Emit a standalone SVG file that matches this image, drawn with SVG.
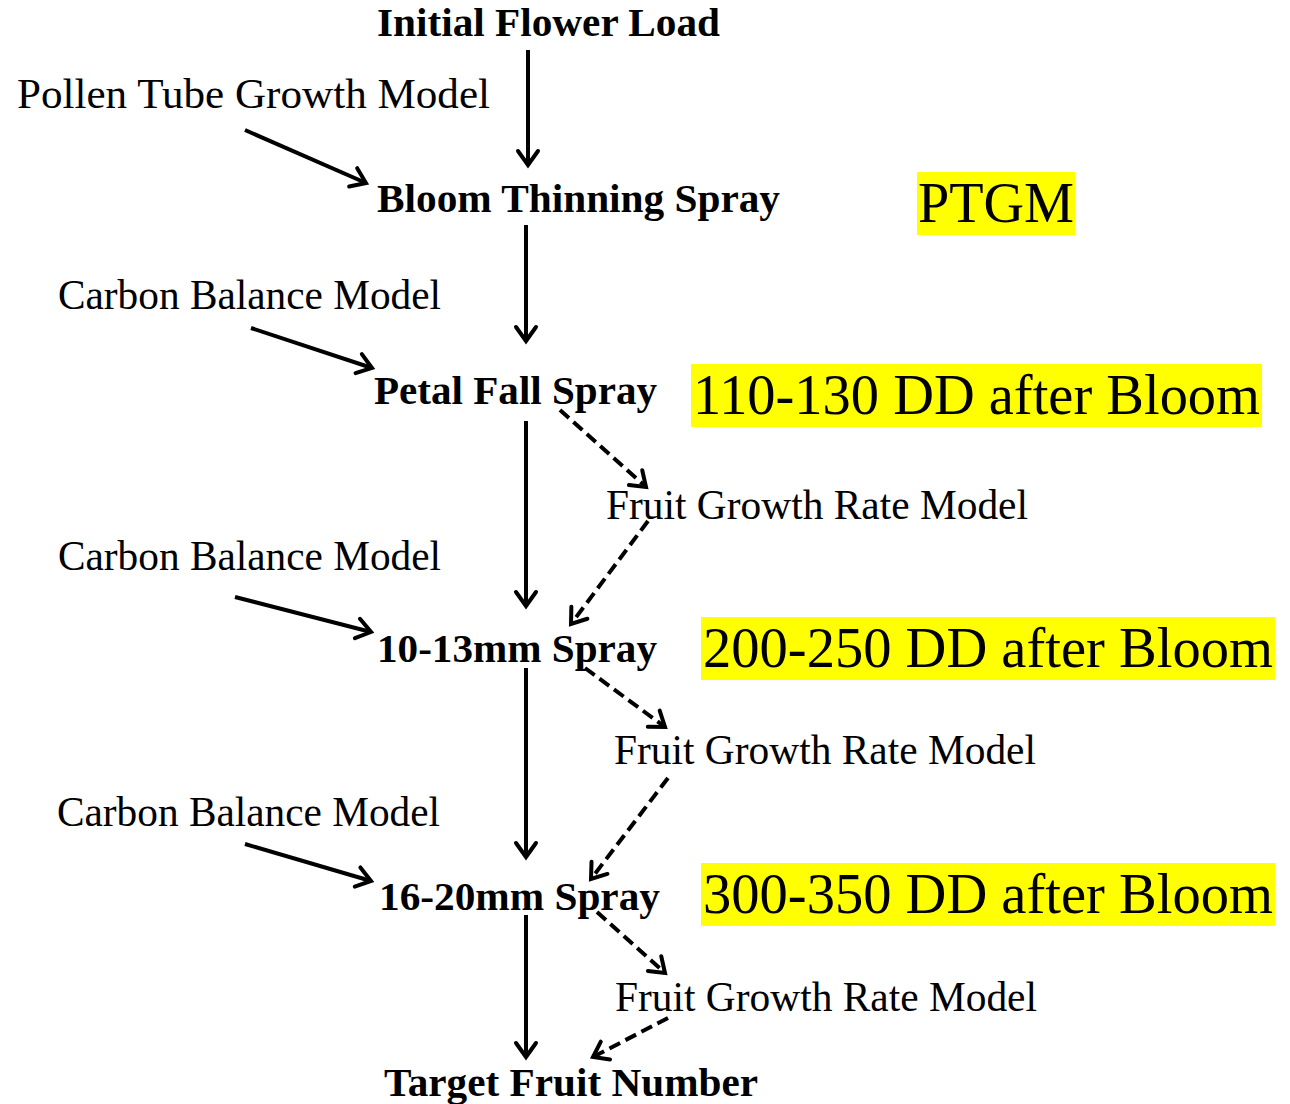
<svg xmlns="http://www.w3.org/2000/svg" width="1290" height="1104" viewBox="0 0 1290 1104">
<style>
.b{font-family:'Liberation Serif','Times New Roman',Times,serif;font-weight:bold;font-size:40px;fill:#000}
.r{font-family:'Liberation Serif','Times New Roman',Times,serif;font-size:42px;fill:#000}
.y{font-family:'Liberation Serif','Times New Roman',Times,serif;font-size:56px;fill:#000}
.hl{fill:#ffff00}
.s{stroke:#000;stroke-width:4;fill:none;marker-end:url(#ah)}
.d{stroke:#000;stroke-width:4;fill:none;stroke-dasharray:12 6;marker-end:url(#ah)}
</style>
<defs>
<marker id="ah" markerUnits="userSpaceOnUse" viewBox="-18 -14 22 28" markerWidth="22" markerHeight="28" refX="0" refY="0" orient="auto">
<polyline points="-14,-10 0,0 -14,10" fill="none" stroke="#000" stroke-width="4" stroke-linecap="round" stroke-linejoin="miter"/>
</marker>
</defs>
<rect width="1290" height="1104" fill="#fff"/>
<g id="connectors">
<line class="s" x1="528" y1="50" x2="528" y2="165"/>
<line class="s" x1="526" y1="225" x2="526" y2="341"/>
<line class="s" x1="526" y1="421" x2="526" y2="606"/>
<line class="s" x1="526" y1="668" x2="526" y2="857"/>
<line class="s" x1="526" y1="915" x2="526" y2="1057"/>
<line class="s" x1="245" y1="130" x2="366" y2="183"/>
<line class="s" x1="251" y1="328" x2="372" y2="368"/>
<line class="s" x1="235" y1="597" x2="371" y2="632"/>
<line class="s" x1="245" y1="844" x2="371" y2="881"/>
<line class="d" x1="560" y1="410" x2="646" y2="487"/>
<line class="d" x1="648" y1="521" x2="571" y2="624"/>
<line class="d" x1="585" y1="668" x2="665" y2="727"/>
<line class="d" x1="668" y1="778" x2="591" y2="879"/>
<line class="d" x1="597" y1="912" x2="665" y2="973"/>
<line class="d" x1="668" y1="1018" x2="593" y2="1057"/>
</g>
<g id="initial"><text class="b" x="377" y="36" textLength="343" lengthAdjust="spacingAndGlyphs">Initial Flower Load</text></g>
<g id="pollen"><text class="r" x="17" y="108" textLength="473" lengthAdjust="spacingAndGlyphs">Pollen Tube Growth Model</text></g>
<g id="bloom"><text class="b" x="377" y="212" textLength="403" lengthAdjust="spacingAndGlyphs">Bloom Thinning Spray</text></g>
<g id="ptgm"><rect class="hl" x="917" y="172" width="158" height="63"/><text class="y" x="918" y="222" textLength="156" lengthAdjust="spacingAndGlyphs">PTGM</text></g>
<g id="carbon1"><text class="r" x="58" y="309" textLength="383" lengthAdjust="spacingAndGlyphs">Carbon Balance Model</text></g>
<g id="petal"><text class="b" x="374" y="404" textLength="283" lengthAdjust="spacingAndGlyphs">Petal Fall Spray</text></g>
<g id="dd1"><rect class="hl" x="691" y="364" width="571" height="63"/><text class="y" x="693" y="414" textLength="567" lengthAdjust="spacingAndGlyphs">110-130 DD after Bloom</text></g>
<g id="fgr1"><text class="r" x="606" y="519" textLength="422" lengthAdjust="spacingAndGlyphs">Fruit Growth Rate Model</text></g>
<g id="carbon2"><text class="r" x="58" y="570" textLength="383" lengthAdjust="spacingAndGlyphs">Carbon Balance Model</text></g>
<g id="spray1013"><text class="b" x="377" y="662" textLength="280" lengthAdjust="spacingAndGlyphs">10-13mm Spray</text></g>
<g id="dd2"><rect class="hl" x="701" y="617" width="574" height="63"/><text class="y" x="703" y="667" textLength="570" lengthAdjust="spacingAndGlyphs">200-250 DD after Bloom</text></g>
<g id="fgr2"><text class="r" x="614" y="764" textLength="422" lengthAdjust="spacingAndGlyphs">Fruit Growth Rate Model</text></g>
<g id="carbon3"><text class="r" x="57" y="826" textLength="383" lengthAdjust="spacingAndGlyphs">Carbon Balance Model</text></g>
<g id="spray1620"><text class="b" x="379" y="910" textLength="281" lengthAdjust="spacingAndGlyphs">16-20mm Spray</text></g>
<g id="dd3"><rect class="hl" x="701" y="863" width="574" height="63"/><text class="y" x="703" y="913" textLength="570" lengthAdjust="spacingAndGlyphs">300-350 DD after Bloom</text></g>
<g id="fgr3"><text class="r" x="615" y="1011" textLength="422" lengthAdjust="spacingAndGlyphs">Fruit Growth Rate Model</text></g>
<g id="target"><text class="b" x="384" y="1096" textLength="374" lengthAdjust="spacingAndGlyphs">Target Fruit Number</text></g>
</svg>
